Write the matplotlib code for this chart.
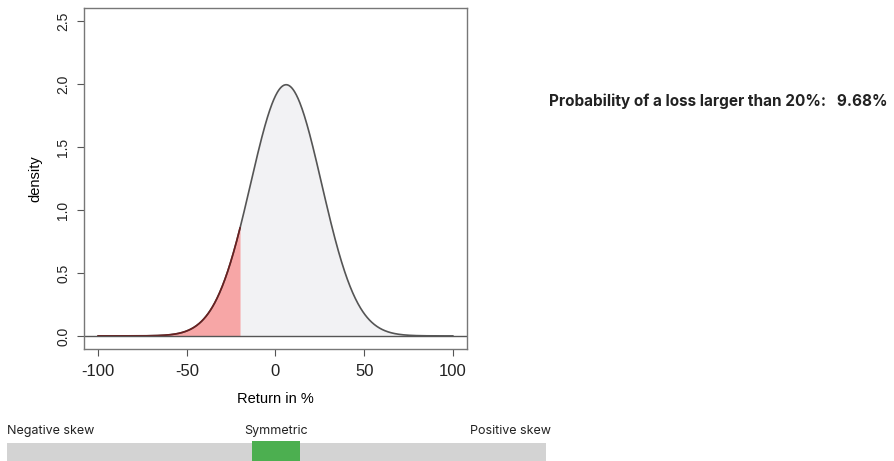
import math
import matplotlib
matplotlib.use("Agg")
import matplotlib.pyplot as plt
import numpy as np

# Distribution parameters (returns in %)
MEAN_RETURN = 6.0
SD_RETURN = 20.0
LOSS_THRESHOLD = -20.0
X_RANGE = (-100, 100)

X_TICKS = [-100, -50, 0, 50, 100]
Y_TICKS = [0.0, 0.5, 1.0, 1.5, 2.0, 2.5]

SKEW_LABELS = ["Negative skew", "Symmetric", "Positive skew"]
SKEW_POSITION = 0.5  # 0 = negative, 1 = positive

W, H = 895, 461

# density in "per unit return" (i.e. returns as fractions)
x = np.linspace(X_RANGE[0], X_RANGE[1], 801)
z = (x - MEAN_RETURN) / SD_RETURN
dens = 100.0 * np.exp(-0.5 * z ** 2) / (SD_RETURN * math.sqrt(2 * math.pi))
prob_loss = 0.5 * (1 + math.erf((LOSS_THRESHOLD - MEAN_RETURN) / (SD_RETURN * math.sqrt(2))))

fig = plt.figure(figsize=(W / 100, H / 100), dpi=100)
plot_font = ["Liberation Sans", "DejaVu Sans"]

ax = fig.add_axes([84 / W, (H - 349) / H, (467 - 84) / W, (349 - 8) / H])
ax.fill_between(x, 0, dens, color="#f2f2f4", lw=0)
mask = x <= LOSS_THRESHOLD
ax.fill_between(x[mask], 0, dens[mask], color="#f7a6a6", lw=0)
ax.plot(x, dens, color="#555555", lw=1.2)
ax.plot(x[mask], dens[mask], color="#6b1f1f", lw=1.2)
ax.axhline(0, color="#555555", lw=1)

ax.set_xlim(-108, 108)
ax.set_ylim(-0.104, 2.604)
ax.set_xticks(X_TICKS)
ax.set_xticklabels([str(t) for t in X_TICKS], fontsize=12, family=plot_font, color="#222222")
ax.set_yticks(Y_TICKS)
ax.set_yticklabels([f"{t:.1f}" for t in Y_TICKS], fontsize=10, family=plot_font,
                   rotation=90, va="center", color="#222222")
ax.tick_params(direction="out", length=5, width=0.8, color="#555555")
ax.tick_params(axis="x", pad=6)
ax.tick_params(axis="y", pad=5)
for s in ax.spines.values():
    s.set_color("#777777")
    s.set_linewidth(1)
ax.set_xlabel("Return in %", fontsize=10.5, family=plot_font, labelpad=9)
ax.set_ylabel("density", fontsize=10.5, family=plot_font, labelpad=10)

# probability text
fig.text(549 / W, 1 - 101 / H,
         f"Probability of a loss larger than 20%:   {prob_loss * 100:.2f}%",
         fontsize=11, fontweight="bold", family=["Inter", "DejaVu Sans"],
         color="#222222", va="center", ha="left")

# skew slider
sax = fig.add_axes([7 / W, 0, (546 - 7) / W, (461 - 443) / H])
sax.set_xlim(0, 1)
sax.set_ylim(0, 1)
sax.axis("off")
sax.add_patch(plt.Rectangle((0, 0), 1, 1, color="#d3d3d3", lw=0))
blk = (300 - 252) / (546 - 7)
sax.add_patch(plt.Rectangle((SKEW_POSITION - blk / 2 + (276 - 276.5) / 539, 0), blk, 1.12,
                            color="#4caf50", lw=0, clip_on=False))
label_y = 1 - 431 / H
fig.text(7 / W, label_y, SKEW_LABELS[0], fontsize=9, family=["Inter", "DejaVu Sans"],
         color="#222222", va="center", ha="left")
fig.text(276 / W, label_y, SKEW_LABELS[1], fontsize=9, family=["Inter", "DejaVu Sans"],
         color="#222222", va="center", ha="center")
fig.text(551 / W, label_y, SKEW_LABELS[2], fontsize=9, family=["Inter", "DejaVu Sans"],
         color="#222222", va="center", ha="right")

fig.savefig("out.png", dpi=100)
